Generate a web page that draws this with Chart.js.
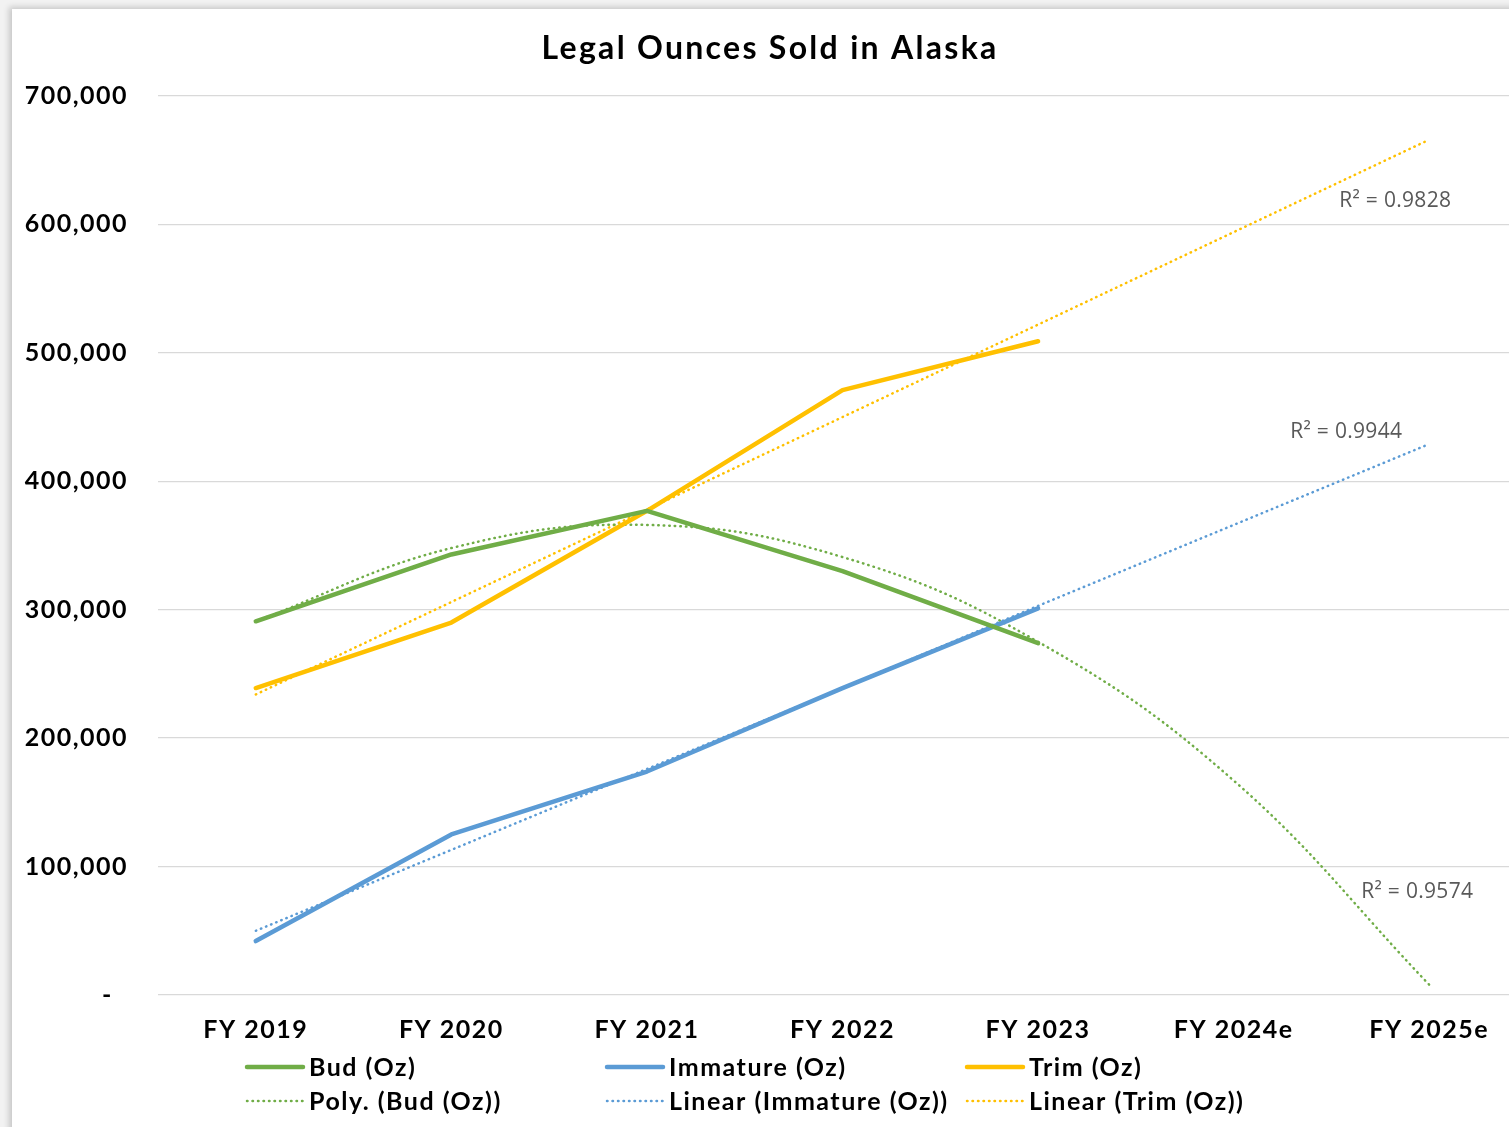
<!DOCTYPE html>
<html>
<head>
<meta charset="utf-8">
<script src="https://cdn.jsdelivr.net/npm/chart.js@4/dist/chart.umd.min.js"></script>
<style>
  html, body { margin: 0; padding: 0; background: #f2f2f2; overflow: hidden; width: 1509px; height: 1127px; }
  .panel { position: absolute; left: 12px; top: 9px; width: 1516px; height: 1130px; background: #fff;
           box-shadow: -3px -2px 6px rgba(0,0,0,0.18); }
  canvas { display: block; }
</style>
</head>
<body>
<div class="panel"><canvas id="chart" width="1516" height="1118"></canvas></div>
<script>
// values
const categories = ['FY 2019', 'FY 2020', 'FY 2021', 'FY 2022', 'FY 2023', 'FY 2024e', 'FY 2025e']
const budOz = [291000, 343000, 377000, 330000, 274000]
const immatureOz = [42000, 125000, 174000, 239000, 301000]
const trimOz = [239000, 290000, 377000, 471000, 509000]
const budPoly = [291000, 348000, 366000, 341000, 275000, 167000, 8000]
const immatureLinear = [50000, 113000, 176000, 239000, 303000, 366000, 429000]
const trimLinear = [234000, 306000, 378000, 450000, 522000, 594000, 666000]
const rSquared = ['R² = 0.9828', 'R² = 0.9944', 'R² = 0.9574']

const GREEN = '#70AD47'
const BLUE = '#5B9BD5'
const GOLD = '#FFC000'
const FONT = 'Lato, "Noto Sans", sans-serif'
const DOTS = [0.5, 5]

function solid(label, data, color) {
    return { label: label, data: data, borderColor: color, backgroundColor: color, borderWidth: 4.5,
             pointRadius: 0, tension: 0, fill: false, borderCapStyle: 'round', borderJoinStyle: 'round' }
}
function dotted(label, data, color, curve) {
    return { label: label, data: data, borderColor: color, backgroundColor: color, borderWidth: 2.5,
             borderDash: DOTS, borderCapStyle: 'round', pointRadius: 0, tension: curve ? 0.4 : 0, fill: false }
}

// title, legend and R² labels drawn straight on the canvas
const decor = {
    id: 'decor',
    beforeDraw(chart) {
        // the original font is wider than Lato, spread the letters a bit
        chart.ctx.letterSpacing = '1.5px'
    },
    afterDraw(chart) {
        let ctx = chart.ctx
        let x = chart.scales.x
        let y = chart.scales.y
        ctx.save()
        ctx.fillStyle = '#000'
        ctx.font = 'bold 32px ' + FONT
        ctx.letterSpacing = '2.3px'
        ctx.textAlign = 'center'
        ctx.textBaseline = 'middle'
        ctx.fillText('Legal Ounces Sold in Alaska', chart.width / 2, 40)

        // R² texts next to the trend lines
        ctx.font = '21px "Open Sans", sans-serif'
        ctx.letterSpacing = '0.3px'
        ctx.fillStyle = '#595959'
        ctx.textAlign = 'left'
        let last = x.getPixelForValue(6)
        ctx.fillText(rSquared[0], last - 90, y.getPixelForValue(618000))
        ctx.fillText(rSquared[1], last - 139, y.getPixelForValue(438000))
        ctx.fillText(rSquared[2], last - 68, y.getPixelForValue(80000))

        // legend: 3 columns x 2 rows
        let ds = chart.data.datasets
        ctx.font = 'bold 25px ' + FONT
        ctx.letterSpacing = '1.5px'
        ctx.fillStyle = '#000'
        for (let i = 0; i < ds.length; i++) {
            let col = i % 3
            let row = Math.floor(i / 3)
            let lx = 233 + col * 360
            let ly = 1058 + row * 34
            ctx.beginPath()
            ctx.strokeStyle = ds[i].borderColor
            ctx.lineWidth = ds[i].borderWidth
            ctx.lineCap = 'round'
            ctx.setLineDash(ds[i].borderDash || [])
            ctx.moveTo(lx + 2, ly)
            ctx.lineTo(lx + 58, ly)
            ctx.stroke()
            ctx.setLineDash([])
            ctx.fillText(ds[i].label, lx + 64, ly + 1)
        }
        ctx.restore()
    }
}

new Chart(document.getElementById('chart'), {
    type: 'line',
    data: {
        labels: categories,
        datasets: [
            solid('Bud (Oz)', budOz, GREEN),
            solid('Immature (Oz)', immatureOz, BLUE),
            solid('Trim (Oz)', trimOz, GOLD),
            dotted('Poly. (Bud (Oz))', budPoly, GREEN, true),
            dotted('Linear (Immature (Oz))', immatureLinear, BLUE, false),
            dotted('Linear (Trim (Oz))', trimLinear, GOLD, false)
        ]
    },
    plugins: [decor],
    options: {
        responsive: false,
        animation: false,
        layout: { padding: { top: 87, right: 1, left: 0, bottom: 0 } },
        plugins: { legend: { display: false }, title: { display: false }, tooltip: { enabled: false } },
        scales: {
            x: {
                offset: true,
                grid: { display: false, drawTicks: false },
                border: { display: false },
                ticks: { color: '#000', font: { family: FONT, size: 25, weight: 'bold' }, padding: 20, maxRotation: 0 },
                afterFit(scale) { scale.height = 132 }
            },
            y: {
                min: 0,
                max: 700000,
                grid: { color: '#D9D9D9', lineWidth: 1.3, drawTicks: false },
                border: { display: false },
                ticks: {
                    stepSize: 100000,
                    color: '#000',
                    font: { family: FONT, size: 25, weight: 'bold' },
                    padding: 30,
                    callback: v => v === 0 ? '-  ' : v.toLocaleString('en-US')
                },
                afterFit(scale) { scale.width = 146 }
            }
        }
    }
})
</script>
</body>
</html>
